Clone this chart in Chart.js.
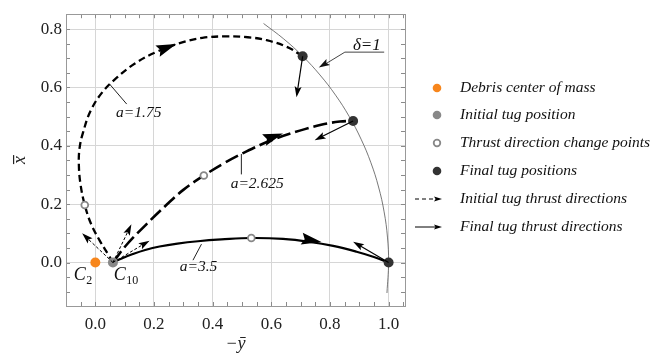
<!DOCTYPE html>
<html>
<head>
<meta charset="utf-8">
<script src="https://cdn.jsdelivr.net/npm/chart.js@4.4.1/dist/chart.umd.min.js"></script>
<style>
html,body{margin:0;padding:0;background:#fff;}
#wrap{width:666px;height:359px;position:relative;}
</style>
</head>
<body>
<div id="wrap"><canvas id="c"></canvas></div>
<script>
// ---------- data ----------
const xTicks = [0.0, 0.2, 0.4, 0.6, 0.8, 1.0];
const yTicks = [0.0, 0.2, 0.4, 0.6, 0.8];

const debrisCenter = [[0.0, 0.0]];
const initialTug = [[0.06, 0.0]];
const changePoints = [[-0.036, 0.197], [0.37, 0.298], [0.532, 0.084]];
const finalPositions = [[0.707, 0.707], [0.879, 0.485], [1.0, 0.0]];

const curveA175 = [[0.06,0],[0.043,0.029],[0.015,0.075],[-0.014,0.131],[-0.036,0.197],[-0.05,0.265],[-0.056,0.33],[-0.054,0.39],[-0.042,0.445],[-0.016,0.52],[0.025,0.585],[0.075,0.635],[0.135,0.682],[0.205,0.72],[0.288,0.752],[0.365,0.77],[0.447,0.775],[0.52,0.772],[0.584,0.762],[0.655,0.738],[0.707,0.707]];
const curveA2625 = [[0.06,0],[0.106,0.06],[0.174,0.131],[0.242,0.197],[0.3,0.249],[0.37,0.298],[0.435,0.338],[0.504,0.375],[0.6,0.419],[0.697,0.452],[0.77,0.472],[0.834,0.483],[0.879,0.485]];
const curveA35 = [[0.06,0],[0.09,0.014],[0.128,0.029],[0.17,0.043],[0.219,0.055],[0.28,0.065],[0.35,0.073],[0.43,0.079],[0.532,0.084],[0.64,0.081],[0.731,0.071],[0.811,0.057],[0.891,0.037],[0.95,0.019],[1.0,0]];
const circleDelta1 = [[0.9945,-0.1045],[1.0,0.0],[0.9962,0.0872],[0.9848,0.1736],[0.9659,0.2588],[0.9397,0.342],[0.9063,0.4226],[0.866,0.5],[0.8192,0.5736],[0.766,0.6428],[0.7071,0.7071],[0.6428,0.766],[0.5736,0.8192]];

const curveArrowTips = [[0.276,0.749],[0.64,0.442],[0.771,0.07]];
const initialThrustEnds = [[-0.045,0.10],[0.123,0.131],[0.185,0.075]];
const finalThrustEnds = [[0.686,0.566],[0.748,0.419],[0.879,0.071]];

const curveLabels = ['a=1.75', 'a=2.625', 'a=3.5'];
const legendLabels = ['Debris center of mass','Initial tug position','Thrust direction change points','Final tug positions','Initial tug thrust directions','Final tug thrust directions'];

// ---------- helpers ----------
const pts = a => a.map(p => ({x: p[0], y: p[1]}));
const SERIF = '"Liberation Serif", "DejaVu Serif", serif';

function head(ctx, tx, ty, ang, len, wid, notch) {
  ctx.save();
  ctx.translate(tx, ty);
  ctx.rotate(ang);
  ctx.beginPath();
  ctx.moveTo(0, 0);
  ctx.lineTo(-len, -wid / 2);
  ctx.lineTo(-len * (notch || 0.8), 0);
  ctx.lineTo(-len, wid / 2);
  ctx.closePath();
  ctx.fill();
  ctx.restore();
}

// label layout (data space anchors, separate from data)
const labelPos = [
  {text: curveLabels[0], at: [0.148, 0.512], lead: [[0.049,0.611],[0.107,0.543]]},
  {text: curveLabels[1], at: [0.552, 0.27], lead: [[0.498,0.372],[0.498,0.302]]},
  {text: curveLabels[2], at: [0.352, -0.016], lead: [[0.362,0.063],[0.333,0.008]]}
];

const overlay = {
  id: 'overlay',
  beforeDatasetsDraw(chart) {
    const {ctx, chartArea: a, scales: {x, y}} = chart;
    ctx.save();
    ctx.strokeStyle = '#8a8a8a';
    ctx.lineWidth = 1;
    ctx.beginPath();
    for (let k = -2; k <= 21; k++) {
      const v = k * 0.05;
      const px = Math.round(x.getPixelForValue(v)) + 0.5;
      if (px > a.left + 1 && px < a.right - 1) {
        ctx.moveTo(px, a.bottom); ctx.lineTo(px, a.bottom - 4);
        ctx.moveTo(px, a.top); ctx.lineTo(px, a.top + 4);
      }
      const py = Math.round(y.getPixelForValue(v)) + 0.5;
      if (py > a.top + 1 && py < a.bottom - 1) {
        ctx.moveTo(a.left, py); ctx.lineTo(a.left + 4, py);
        ctx.moveTo(a.right, py); ctx.lineTo(a.right - 4, py);
      }
    }
    ctx.stroke();
    ctx.strokeStyle = '#999';
    ctx.strokeRect(Math.round(a.left) + 0.5, Math.round(a.top) + 0.5, Math.round(a.right - a.left), Math.round(a.bottom - a.top));
    ctx.restore();
  },
  afterDatasetsDraw(chart) {
    const {ctx, chartArea: area, scales: {x, y}} = chart;
    const P = p => [x.getPixelForValue(p[0]), y.getPixelForValue(p[1])];
    ctx.save();
    ctx.fillStyle = '#000';
    const curves = [curveA175, curveA2625, curveA35];
    curveArrowTips.forEach((tip, i) => {
      const c = curves[i].map(P);
      const t = P(tip);
      let best = 0, bd = 1e9;
      for (let j = 0; j < c.length - 1; j++) {
        const mx = (c[j][0] + c[j+1][0]) / 2, my = (c[j][1] + c[j+1][1]) / 2;
        const d = (mx - t[0]) ** 2 + (my - t[1]) ** 2;
        if (d < bd) { bd = d; best = j; }
      }
      const ang = Math.atan2(c[best+1][1] - c[best][1], c[best+1][0] - c[best][0]);
      head(ctx, t[0], t[1], ang, 20, 12, 0.85);
    });
    function thrust(from, to, dashed) {
      const a = P(from), b = P(to);
      const ang = Math.atan2(b[1] - a[1], b[0] - a[0]);
      ctx.save();
      ctx.strokeStyle = '#000';
      ctx.lineWidth = dashed ? 1 : 1.2;
      ctx.setLineDash(dashed ? [3, 2] : []);
      ctx.beginPath();
      ctx.moveTo(a[0], a[1]);
      ctx.lineTo(b[0] - 6 * Math.cos(ang), b[1] - 6 * Math.sin(ang));
      ctx.stroke();
      ctx.restore();
      head(ctx, b[0], b[1], ang, 11, 7);
    }
    initialThrustEnds.forEach(e => thrust(initialTug[0], e, true));
    finalThrustEnds.forEach((e, i) => thrust(finalPositions[i], e, false));

    ctx.font = 'italic 15.5px ' + SERIF;
    ctx.textAlign = 'center';
    ctx.textBaseline = 'middle';
    ctx.fillStyle = '#111';
    ctx.strokeStyle = '#222';
    ctx.lineWidth = 1;
    labelPos.forEach(l => {
      const p = P(l.at);
      ctx.fillText(l.text, p[0], p[1]);
      const s = P(l.lead[0]), e = P(l.lead[1]);
      ctx.beginPath(); ctx.moveTo(s[0], s[1]); ctx.lineTo(e[0], e[1]); ctx.stroke();
    });

    const dp = P([0.926, 0.745]);
    ctx.font = 'italic 17px ' + SERIF;
    ctx.fillText('\u03B4=1', dp[0], dp[1]);
    const u0 = P([0.851, 0.721]), u1 = P([0.985, 0.721]), ut = P([0.762, 0.668]);
    ctx.strokeStyle = '#444';
    ctx.beginPath(); ctx.moveTo(u1[0], u1[1]); ctx.lineTo(u0[0], u0[1]); ctx.lineTo(ut[0] + 4, ut[1] - 2); ctx.stroke();
    head(ctx, ut[0], ut[1], Math.atan2(ut[1] - u0[1], ut[0] - u0[0]), 11, 7);

    function sub(main, s, at) {
      const p = P(at);
      ctx.textAlign = 'left';
      ctx.font = 'italic 18px ' + SERIF;
      const w1 = ctx.measureText(main).width;
      ctx.font = '12px ' + SERIF;
      const w2 = ctx.measureText(s).width;
      const x0 = p[0] - (w1 + w2) / 2;
      ctx.font = 'italic 18px ' + SERIF;
      ctx.fillText(main, x0, p[1] - 2);
      ctx.font = '12px ' + SERIF;
      ctx.fillText(s, x0 + w1 + 0.5, p[1] + 4);
    }
    sub('C', '2', [-0.043, -0.05]);
    sub('C', '10', [0.104, -0.05]);
    ctx.restore();

    // y-axis title: x with overbar, rotated
    ctx.save();
    ctx.translate(20, (area.top + area.bottom) / 2);
    ctx.rotate(-Math.PI / 2);
    ctx.font = 'italic 18px ' + SERIF;
    ctx.fillStyle = '#222';
    ctx.textAlign = 'center';
    ctx.textBaseline = 'middle';
    ctx.fillText('x', 0, 0);
    ctx.fillRect(-4, -7, 9, 1.2);
    ctx.restore();
  },
  afterDraw(chart) {
    const {ctx} = chart;
    ctx.save();
    const mx = 437, tx = 460;
    const rows = [88, 115, 143, 171, 199, 227];
    ctx.font = 'italic 15.5px ' + SERIF;
    ctx.textBaseline = 'middle';
    ctx.textAlign = 'left';
    ctx.fillStyle = '#111';
    legendLabels.forEach((t, i) => ctx.fillText(t, tx, rows[i]));
    const dot = (y, col) => { ctx.beginPath(); ctx.arc(mx, y, 4.3, 0, Math.PI * 2); ctx.fillStyle = col; ctx.fill(); };
    dot(rows[0], '#f7861c');
    dot(rows[1], '#888');
    ctx.beginPath(); ctx.arc(mx, rows[2], 3.3, 0, Math.PI * 2); ctx.fillStyle = '#fff'; ctx.fill();
    ctx.strokeStyle = '#888'; ctx.lineWidth = 1.8; ctx.stroke();
    dot(rows[3], '#333');
    ctx.fillStyle = '#000'; ctx.strokeStyle = '#000'; ctx.lineWidth = 1;
    ctx.setLineDash([4, 3]);
    ctx.beginPath(); ctx.moveTo(415, rows[4]); ctx.lineTo(436, rows[4]); ctx.stroke();
    ctx.setLineDash([]);
    head(ctx, 442, rows[4], 0, 8, 5);
    ctx.beginPath(); ctx.moveTo(415, rows[5]); ctx.lineTo(436, rows[5]); ctx.stroke();
    head(ctx, 442, rows[5], 0, 8, 5);
    ctx.restore();
  }
};

const lineDs = (data, dash, w, col, order) => ({
  type: 'line', data: pts(data), borderColor: col, borderWidth: w, borderDash: dash,
  pointRadius: 0, tension: 0.4, fill: false, order: order, showLine: true
});
const dotDs = (data, fill, stroke, r, bw, order) => ({
  type: 'scatter', data: pts(data), backgroundColor: fill, borderColor: stroke,
  pointRadius: r, borderWidth: bw, order: order, pointHoverRadius: r
});

new Chart(document.getElementById('c'), {
  data: {
    datasets: [
      dotDs(debrisCenter, '#f7861c', '#f7861c', 5, 0, 0),
      dotDs(initialTug, '#888', '#888', 5, 0, 0),
      dotDs(changePoints, '#fff', '#888', 3.4, 1.8, 0),
      dotDs(finalPositions, '#333', '#333', 5, 0, 0),
      lineDs(circleDelta1, [], 0.8, '#555', 5),
      lineDs(curveA175, [7, 4], 2.3, '#000', 2),
      lineDs(curveA2625, [14, 5], 2.6, '#000', 2),
      lineDs(curveA35, [], 2.2, '#000', 2)
    ]
  },
  options: {
    responsive: true, maintainAspectRatio: false, animation: false,
    events: [],
    layout: {padding: {top: 11, right: 261, left: 0, bottom: 0}},
    plugins: {legend: {display: false}, tooltip: {enabled: false}},
    scales: {
      x: {
        type: 'linear', min: -0.1, max: 1.056,
        afterBuildTicks: s => { s.ticks = xTicks.map(v => ({value: v})); },
        afterFit: s => { s.height = 53; },
        grid: {color: '#d6d6d6', lineWidth: 1, drawTicks: false},
        border: {display: false},
        ticks: {padding: 8, color: '#222', font: {family: SERIF, size: 17}, callback: v => Number(v).toFixed(1), maxRotation: 0},
        title: {display: true, text: '\u2212\u0233', color: '#222', font: {family: SERIF, size: 18, style: 'italic'}}
      },
      y: {
        type: 'linear', min: -0.149, max: 0.851,
        afterBuildTicks: s => { s.ticks = yTicks.map(v => ({value: v})); },
        afterFit: s => { s.width = 66; },
        grid: {color: '#d6d6d6', lineWidth: 1, drawTicks: false},
        border: {display: false},
        ticks: {padding: 4, color: '#222', font: {family: SERIF, size: 17}, callback: v => Number(v).toFixed(1)},
        title: {display: false}
      }
    }
  },
  plugins: [overlay]
});
</script>
</body>
</html>
